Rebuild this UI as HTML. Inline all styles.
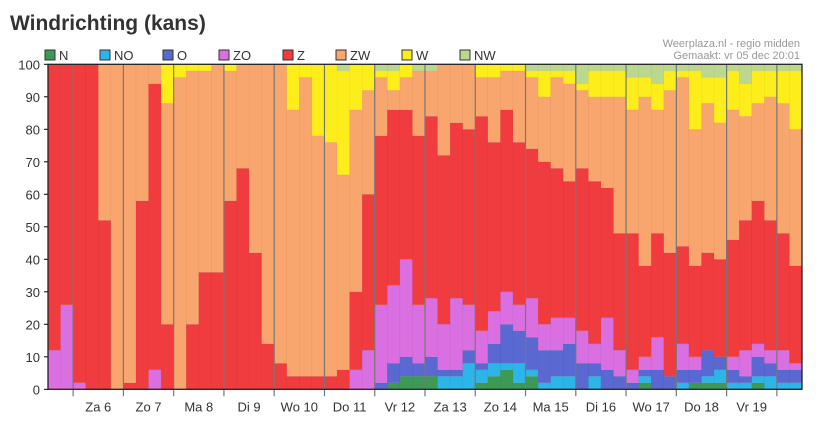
<!DOCTYPE html>
<html><head><meta charset="utf-8"><style>
body{margin:0;background:#fff;font-family:"Liberation Sans",sans-serif;}
#wrap{position:relative;width:818px;height:421px;overflow:hidden}
</style></head><body>
<div id="wrap">
<svg id="svg" width="818" height="421" xmlns="http://www.w3.org/2000/svg">
<text x="10" y="30" font-size="21" font-weight="bold" fill="#333" font-family="Liberation Sans, sans-serif">Windrichting (kans)</text>
<text x="800" y="47" font-size="11" fill="#999" text-anchor="end">Weerplaza.nl - regio midden</text>
<text x="800" y="59" font-size="11" fill="#999" text-anchor="end">Gemaakt: vr 05 dec 20:01</text>
<g id="legend"></g>
<g id="bars"></g>
<g id="axes"></g>
</svg>
</div>
<script>
const categories = ["N","NO","O","ZO","Z","ZW","W","NW"];
const dayLabels = ["Za 6","Zo 7","Ma 8","Di 9","Wo 10","Do 11","Vr 12","Za 13","Zo 14","Ma 15","Di 16","Wo 17","Do 18","Vr 19"];
const yTicks = [0,10,20,30,40,50,60,70,80,90,100];
const sN  = [0,0,0,0,0,0,0,0,0,0,0,0,0,0,0,0,0,0,0,0,0,0,0,0,0,0,0,2,4,4,4,0,0,0,2,4,6,2,4,0,0,0,0,0,0,0,0,2,0,0,0,2,2,2,0,0,2,0,0,0];
const sNO = [0,0,0,0,0,0,0,0,0,0,0,0,0,0,0,0,0,0,0,0,0,0,0,0,0,0,0,0,0,0,0,4,4,8,4,4,2,6,2,2,4,4,0,4,0,0,0,2,0,0,2,0,2,4,2,2,2,4,2,2];
const sO  = [0,0,0,0,0,0,0,0,0,0,0,0,0,0,0,0,0,0,0,0,0,0,0,0,0,0,2,6,6,4,6,2,2,4,2,6,12,10,10,10,8,10,8,4,6,4,2,2,6,4,4,4,8,4,4,2,6,4,4,4];
const sZO = [12,26,2,0,0,0,0,0,6,0,0,0,0,0,0,0,0,0,0,0,0,0,0,0,6,12,24,24,30,18,18,14,22,14,10,10,10,8,12,8,10,8,10,6,16,8,4,4,10,0,8,4,0,0,4,8,4,4,6,2];
const sZ  = [88,74,98,100,52,0,2,58,88,20,0,20,36,36,58,68,42,14,8,4,4,4,4,6,24,48,52,54,46,52,56,52,54,54,66,52,56,50,46,50,46,42,50,50,40,36,42,28,32,38,30,28,30,30,36,40,44,40,36,30];
const sZW = [0,0,0,0,48,100,98,42,6,68,96,78,62,64,40,32,58,86,92,82,92,74,72,60,56,32,18,6,10,20,14,28,18,20,12,20,12,22,22,20,28,30,24,26,28,42,38,52,38,50,52,42,46,42,40,32,30,38,40,42];
const sW  = [0,0,0,0,0,0,0,0,0,12,4,2,2,0,2,0,0,0,0,14,4,22,24,32,14,8,2,6,4,0,0,0,0,0,4,4,2,2,2,8,2,4,2,8,8,8,10,6,8,6,2,18,8,14,12,10,10,8,10,18];
const sNW = [0,0,0,0,0,0,0,0,0,0,0,0,0,0,0,0,0,0,0,0,0,0,0,2,0,0,2,2,0,2,2,0,0,0,0,0,0,0,2,2,2,2,6,2,2,2,4,4,6,2,2,2,4,4,2,6,2,2,2,2];
const series = [sN,sNO,sO,sZO,sZ,sZW,sW,sNW];
const colors = ["#3d9a55","#2cb5e8","#5a68d2","#d96fe0","#f03c3f","#f9a56e","#fdee1b","#bcd88f"];

const NS="http://www.w3.org/2000/svg";
const X0=48,X1=802,YT=64.3,YB=389.3;
const nBars=sZ.length;
const bw=(X1-X0)/nBars;
const xs=i=>X0+i*bw;
const ys=v=>YB-(v/100)*(YB-YT);
function mk(tag,attrs,parent){const e=document.createElementNS(NS,tag);for(const k in attrs)e.setAttribute(k,attrs[k]);parent.appendChild(e);return e;}
const gB=document.getElementById('bars'),gA=document.getElementById('axes'),gL=document.getElementById('legend');

for(let i=0;i<nBars;i++){
  let cum=0;
  for(let c=0;c<series.length;c++){
    const v=series[c][i];if(!v)continue;
    const r=mk('rect',{x:xs(i),y:ys(cum+v),width:bw+0.3,height:ys(cum)-ys(cum+v),fill:colors[c],stroke:'rgba(0,0,0,0.06)','stroke-width':0.6},gB);
    
    
    cum+=v;
  }
}
const firstDayBars=2;
for(let d=0;d<=dayLabels.length;d++){
  const x=xs(firstDayBars+d*4);
  const l=mk('line',{x1:x,x2:x,y1:YT,y2:YB+7,stroke:'#777','stroke-width':1.2},gA);
  
  
  if(d<dayLabels.length){
    const t=mk('text',{x:xs(firstDayBars+d*4+2),y:YB+22,'font-size':13,fill:'#333','text-anchor':'middle'},gA);
    t.textContent=dayLabels[d];
    
    
  }
}
yTicks.forEach(v=>{
  const t=mk('text',{x:40,y:ys(v)+5,'font-size':13,fill:'#333','text-anchor':'end'},gA);
  t.textContent=v;
  
  
  const tk=mk('line',{x1:X0-4,x2:X0,y1:ys(v),y2:ys(v),stroke:'#000'},gA);
  
  
});
const fr=mk('rect',{x:X0,y:YT,width:X1-X0,height:YB-YT,fill:'none',stroke:'#222','stroke-width':1.3},gA);


const legX=[45,100,163,219,283,336,402,460];
categories.forEach((c,i)=>{
  const r=mk('rect',{x:legX[i],y:50,width:10,height:10,fill:colors[i],stroke:'#333','stroke-width':1},gL);
  
  
  const t=mk('text',{x:legX[i]+14,y:60,'font-size':13,fill:'#333'},gL);
  t.textContent=c;
  
  
});
</script>
</body></html>
